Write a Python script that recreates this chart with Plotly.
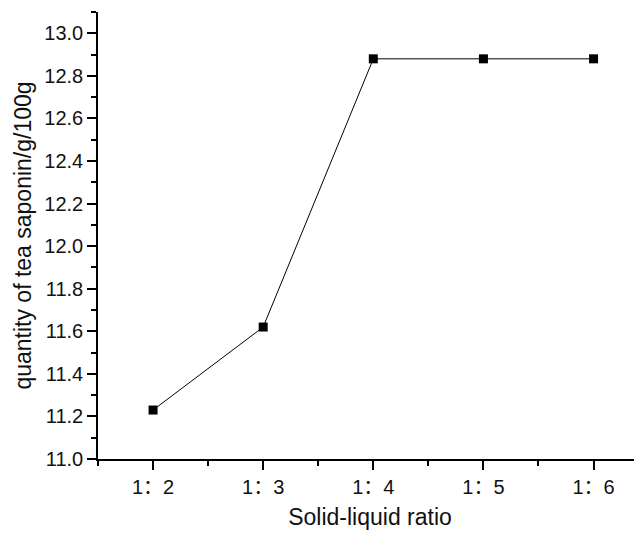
import plotly.graph_objects as go

categories = ["1：2", "1：3", "1：4", "1：5", "1：6"]
saponin = [11.23, 11.62, 12.88, 12.88, 12.88]
x_title = "Solid-liquid ratio"
y_title = "quantity of tea saponin/g/100g"

xpos = list(range(len(categories)))

fig = go.Figure(go.Scatter(
    x=xpos, y=saponin, mode="lines+markers",
    line=dict(color="black", width=1),
    marker=dict(symbol="square", size=9, color="black"),
))

font = dict(family="Liberation Sans, Arial, Noto Sans CJK SC, sans-serif", color="#111111")

# page body has an 8px margin, so the figure is 8px smaller and margins shifted
fig.update_layout(
    width=634, height=527,
    margin=dict(l=90, r=0, t=4, b=76),
    plot_bgcolor="white", paper_bgcolor="white",
    showlegend=False,
    font=dict(**font, size=20),
)
fig.update_xaxes(
    range=[-0.5, 4.44], tickmode="array", tickvals=xpos, ticktext=categories,
    showgrid=False, zeroline=False, showline=True, linecolor="black", linewidth=1.5,
    ticks="outside", ticklen=9, tickwidth=1.5, tickcolor="black",
    minor=dict(tickmode="linear", tick0=0, dtick=0.5, ticks="outside", ticklen=5, tickwidth=1.5, tickcolor="black", showgrid=False),
    tickfont=dict(size=20),
    title=dict(text=x_title, font=dict(size=23), standoff=12),
    automargin=False,
)
fig.update_yaxes(
    range=[11.0, 13.1], tick0=11.0, dtick=0.2, tickformat=".1f",
    showgrid=False, zeroline=False, showline=True, linecolor="black", linewidth=1.5,
    ticks="outside", ticklen=9, tickwidth=1.5, tickcolor="black",
    minor=dict(dtick=0.1, ticks="outside", ticklen=5, tickwidth=1.5, tickcolor="black", showgrid=False),
    tickfont=dict(size=20),
    title=dict(text=y_title, font=dict(size=23), standoff=6),
    automargin=False,
)

fig.write_html("out.html")
